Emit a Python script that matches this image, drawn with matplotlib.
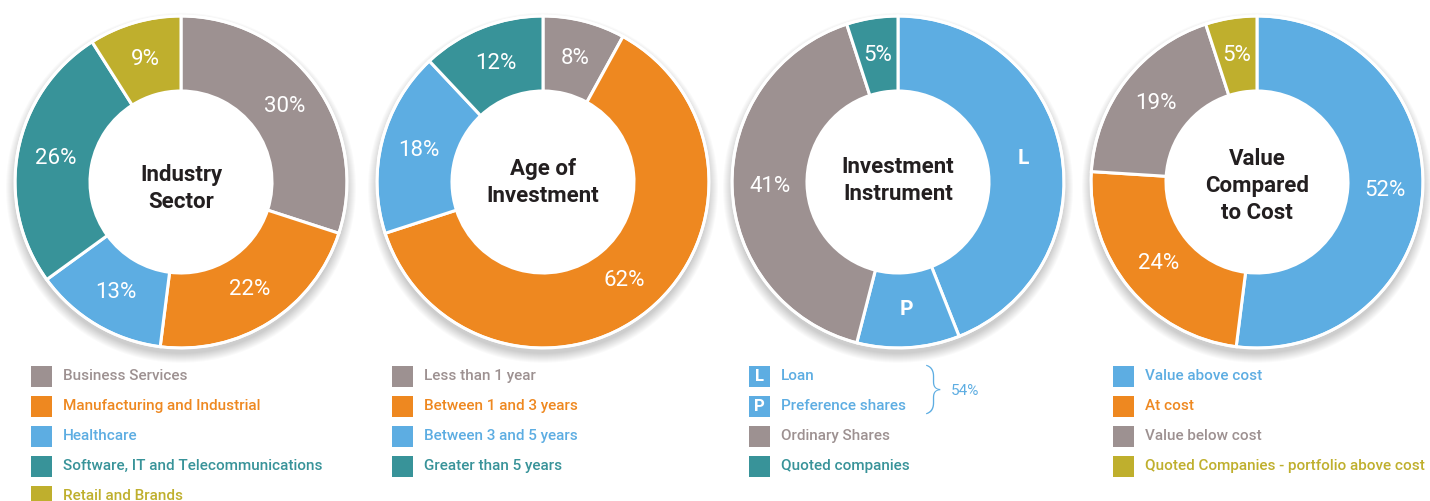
import numpy as np
import matplotlib.pyplot as plt
from matplotlib.patches import Rectangle, Circle

plt.rcParams['font.family'] = ['Roboto', 'DejaVu Sans']

# ------------------------------------------
# DATA
titles = ['Industry\nSector', 'Age of\nInvestment', 'Investment\nInstrument', 'Value\nCompared\nto Cost']

sector_names = ['Business Services', 'Manufacturing and Industrial', 'Healthcare',
                'Software, IT and Telecommunications', 'Retail and Brands']
sector_values = [30, 22, 13, 26, 9]

age_names = ['Less than 1 year', 'Between 1 and 3 years', 'Between 3 and 5 years', 'Greater than 5 years']
age_values = [8, 62, 18, 12]

instrument_names = ['Loan', 'Preference shares', 'Ordinary Shares', 'Quoted companies']
instrument_values = [44, 10, 41, 5]
instrument_labels = ['L', 'P', '41%', '5%']
loan_pref_total = '54%'

value_names = ['Value above cost', 'At cost', 'Value below cost', 'Quoted Companies - portfolio above cost']
value_values = [52, 24, 19, 5]

# ------------------------------------------
# COLOURS
GREY = '#9D9191'
ORANGE = '#EE8820'
BLUE = '#5DADE2'
TEAL = '#389399'
OLIVE = '#BFAF2D'
DARK = '#231F20'

sector_colors = [GREY, ORANGE, BLUE, TEAL, OLIVE]
age_colors = [GREY, ORANGE, BLUE, TEAL]
instrument_colors = [BLUE, BLUE, GREY, TEAL]
value_colors = [BLUE, ORANGE, GREY, OLIVE]

# layout: donut centre x (px) and vertical nudge of the centre title
charts = [
    (sector_values, sector_colors, None, sector_names, 181, -0.037),
    (age_values, age_colors, None, age_names, 543, -0.001),
    (instrument_values, instrument_colors, instrument_labels, instrument_names, 898, 0.008),
    (value_values, value_colors, None, value_names, 1257, -0.025),
]

W, H = 1430, 501
fig = plt.figure(figsize=(W / 100, H / 100), dpi=100)
fig.patch.set_facecolor('white')

R_OUT = 166
CY = 182
ring = 75 / R_OUT
label_r = 0.77

for (vals, cols, labs, names, cx, ty), title in zip(charts, titles):
    ax = fig.add_axes([(cx - R_OUT) / W, (H - CY - R_OUT) / H, 2 * R_OUT / W, 2 * R_OUT / H])
    # soft shadow under the ring
    for k in range(10):
        ax.add_patch(Circle((0, -0.035), 1.0 + 0.006 * k, color='black',
                            alpha=0.018, lw=0, zorder=0, clip_on=False))
    wedges, _ = ax.pie(vals, colors=cols, startangle=90, counterclock=False,
                       radius=1.0, wedgeprops=dict(width=ring, edgecolor='white', linewidth=2.2))
    for w in wedges:
        w.set_zorder(2)
    ax.add_patch(Circle((0, 0), 1.0, fill=False, ec='white', lw=2, zorder=3))
    ax.add_patch(Circle((0, 0), 1.0 - ring, color='white', lw=0, zorder=3))
    if labs is None:
        labs = ['%d%%' % v for v in vals]
    for w, lab in zip(wedges, labs):
        ang = np.deg2rad((w.theta1 + w.theta2) / 2)
        bold = lab in ('L', 'P')
        ax.text(label_r * np.cos(ang), label_r * np.sin(ang), lab, color='white',
                ha='center', va='center', fontsize=16 if not bold else 15,
                fontweight='bold' if bold else 'normal', zorder=4)
    ax.text(0, ty, title, ha='center', va='center', fontsize=16, fontweight='bold',
            color=DARK, linespacing=1.28, zorder=5)
    ax.set_xlim(-1, 1)
    ax.set_ylim(-1, 1)
    ax.set_aspect('equal')
    ax.axis('off')

# ------------------------------------------
# LEGENDS (overlay in pixel coordinates)
lax = fig.add_axes([0, 0, 1, 1])
lax.set_xlim(0, W)
lax.set_ylim(H, 0)
lax.axis('off')

legend_x = [31, 392, 749, 1113]
row_y0 = 376
row_dy = 30
sq = 21
for (vals, cols, labs, names, cx, ty), x0 in zip(charts, legend_x):
    for i, (name, c) in enumerate(zip(names, cols)):
        y = row_y0 + i * row_dy
        lax.add_patch(Rectangle((x0, y - sq / 2), sq, sq, color=c, lw=0))
        if labs is not None and i < 2:
            lax.text(x0 + sq / 2, y + 0.5, labs[i], color='white', ha='center', va='center',
                     fontsize=12, fontweight='bold')
        lax.text(x0 + 32, y, name, color=c, ha='left', va='center', fontsize=11,
                 fontweight='medium')

# brace grouping loan and preference shares
lax.text(933, row_y0 + row_dy / 2 - 2, '}', color=BLUE, ha='center', va='center',
         fontsize=36, fontweight='light')
lax.text(951, row_y0 + row_dy / 2, loan_pref_total, color=BLUE, ha='left', va='center',
         fontsize=11)

fig.savefig('out.png', dpi=100, facecolor='white')
